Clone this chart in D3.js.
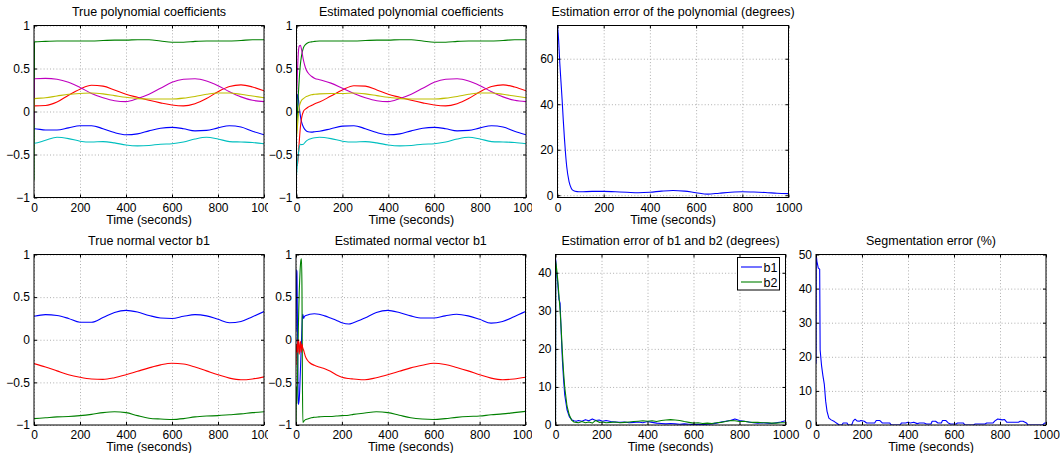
<!DOCTYPE html>
<html>
<head>
<meta charset="utf-8">
<script src="https://cdn.jsdelivr.net/npm/d3@7"></script>
<style>
  body { margin: 0; background: #fff; }
  svg { display: block; font-family: "Liberation Sans", Arial, Helvetica, sans-serif; }
</style>
</head>
<body>
<div id="chart"></div>
<script>
////////////////////////////////////////////////////
// data             //
////////////////////////////////////////////////////

const xTicks = [0, 200, 400, 600, 800, 1000];
const unitTicks = [-1, -0.5, 0, 0.5, 1];
const polyErrTicks = [0, 20, 40, 60];
const normErrTicks = [0, 10, 20, 30, 40];
const segErrTicks = [0, 10, 20, 30, 40, 50];

// true polynomial coefficients (first sample is the initial value)
const polyTime = [0, 2, 50, 100, 150, 200, 250, 300, 350, 400, 450, 500, 550, 600, 650, 700, 750, 800, 850, 900, 950, 1000];
const polyTrueB = [-0.2, -0.2, -0.215, -0.215, -0.19, -0.165, -0.165, -0.2, -0.245, -0.27, -0.26, -0.225, -0.195, -0.185, -0.2, -0.225, -0.22, -0.19, -0.165, -0.18, -0.23, -0.27];
const polyTrueG = [-0.8, 0.81, 0.815, 0.82, 0.82, 0.82, 0.82, 0.825, 0.83, 0.83, 0.835, 0.835, 0.82, 0.805, 0.805, 0.815, 0.82, 0.82, 0.82, 0.825, 0.835, 0.835];
const polyTrueR = [0.065, 0.065, 0.07, 0.11, 0.19, 0.26, 0.305, 0.295, 0.25, 0.2, 0.165, 0.13, 0.1, 0.075, 0.065, 0.09, 0.15, 0.23, 0.29, 0.31, 0.285, 0.24];
const polyTrueC = [-0.37, -0.37, -0.335, -0.3, -0.315, -0.345, -0.355, -0.35, -0.365, -0.39, -0.4, -0.395, -0.38, -0.375, -0.355, -0.32, -0.3, -0.32, -0.35, -0.355, -0.36, -0.375];
const polyTrueM = [-0.15, 0.38, 0.385, 0.375, 0.34, 0.28, 0.21, 0.16, 0.125, 0.115, 0.15, 0.2, 0.27, 0.34, 0.375, 0.38, 0.355, 0.3, 0.23, 0.17, 0.13, 0.115];
const polyTrueY = [0.0, 0.15, 0.16, 0.18, 0.2, 0.21, 0.215, 0.205, 0.185, 0.165, 0.15, 0.145, 0.145, 0.145, 0.155, 0.175, 0.2, 0.215, 0.215, 0.2, 0.18, 0.16];

// estimated polynomial coefficients
const polyEstTime = [0, 4, 8, 12, 17, 22, 30, 40, 50, 65, 80, 100, 150, 200, 250, 300, 350, 400, 450, 500, 550, 600, 650, 700, 750, 800, 850, 900, 950, 1000];
const polyEstB = [-0.1, 0.2, 0.15, 0.05, -0.05, -0.12, -0.18, -0.22, -0.235, -0.24, -0.235, -0.23, -0.2, -0.17, -0.165, -0.2, -0.245, -0.27, -0.26, -0.225, -0.195, -0.185, -0.2, -0.225, -0.22, -0.19, -0.165, -0.18, -0.23, -0.27];
const polyEstG = [-0.25, 0.0, 0.2, 0.38, 0.55, 0.65, 0.74, 0.78, 0.8, 0.81, 0.815, 0.82, 0.82, 0.82, 0.82, 0.825, 0.83, 0.83, 0.835, 0.835, 0.82, 0.805, 0.805, 0.815, 0.82, 0.82, 0.82, 0.825, 0.835, 0.835];
const polyEstR = [-0.55, -0.63, -0.5, -0.35, -0.18, -0.08, 0.0, 0.03, 0.05, 0.07, 0.09, 0.11, 0.18, 0.25, 0.3, 0.295, 0.25, 0.2, 0.165, 0.13, 0.1, 0.075, 0.065, 0.09, 0.15, 0.23, 0.29, 0.31, 0.285, 0.24];
const polyEstC = [-0.74, -0.6, -0.5, -0.42, -0.38, -0.385, -0.38, -0.35, -0.33, -0.315, -0.305, -0.3, -0.315, -0.345, -0.355, -0.35, -0.365, -0.39, -0.4, -0.395, -0.38, -0.375, -0.355, -0.32, -0.3, -0.32, -0.35, -0.355, -0.36, -0.375];
const polyEstM = [0.15, 0.45, 0.68, 0.76, 0.77, 0.72, 0.6, 0.5, 0.45, 0.41, 0.385, 0.37, 0.33, 0.27, 0.21, 0.16, 0.125, 0.115, 0.15, 0.2, 0.27, 0.34, 0.375, 0.38, 0.355, 0.3, 0.23, 0.17, 0.13, 0.115];
const polyEstY = [-0.3, -0.18, -0.05, 0.05, 0.1, 0.13, 0.15, 0.17, 0.18, 0.195, 0.2, 0.205, 0.21, 0.21, 0.215, 0.205, 0.185, 0.165, 0.15, 0.145, 0.145, 0.145, 0.155, 0.175, 0.2, 0.215, 0.215, 0.2, 0.18, 0.16];

// estimation error of the polynomial (degrees)
const polyErrTime = [0, 5, 10, 15, 20, 25, 30, 35, 40, 50, 60, 70, 85, 100, 150, 200, 250, 300, 350, 400, 450, 500, 550, 600, 650, 700, 750, 800, 850, 900, 950, 1000];
const polyErr = [74.6, 68, 58, 50, 42, 33, 25, 18, 12.5, 6, 3, 2, 1.6, 1.5, 1.7, 1.7, 1.5, 1.3, 1.1, 1.3, 1.8, 2.1, 1.8, 1.1, 0.5, 0.9, 1.3, 1.5, 1.4, 1.2, 0.9, 0.7];

// true normal vector b1
const normTime = [0, 50, 100, 150, 200, 250, 300, 350, 400, 450, 500, 550, 600, 650, 700, 750, 800, 850, 900, 950, 1000];
const normTrueB = [0.275, 0.295, 0.285, 0.25, 0.205, 0.205, 0.26, 0.32, 0.345, 0.325, 0.285, 0.255, 0.25, 0.275, 0.295, 0.28, 0.24, 0.2, 0.215, 0.27, 0.33];
const normTrueG = [-0.925, -0.915, -0.905, -0.9, -0.89, -0.875, -0.855, -0.845, -0.855, -0.89, -0.92, -0.93, -0.935, -0.925, -0.905, -0.895, -0.89, -0.88, -0.87, -0.855, -0.845];
const normTrueR = [-0.28, -0.32, -0.365, -0.41, -0.44, -0.46, -0.465, -0.445, -0.41, -0.37, -0.33, -0.295, -0.275, -0.285, -0.32, -0.365, -0.41, -0.45, -0.47, -0.46, -0.435];

// estimated normal vector b1
const normEstTime = [0, 2, 4, 6, 8, 10, 12, 14, 16, 18, 20, 22, 24, 26, 28, 30, 33, 36, 40, 50, 60, 80, 100, 125, 150, 175, 200, 230, 250, 300, 350, 400, 450, 500, 550, 600, 650, 700, 750, 800, 850, 900, 950, 1000];
const normEstB = [0.1, 0.82, 0.8, 0.3, -0.3, -0.76, -0.74, -0.7, -0.6, -0.45, -0.3, -0.15, 0.0, 0.15, 0.27, 0.3, 0.25, 0.27, 0.28, 0.29, 0.3, 0.305, 0.3, 0.28, 0.255, 0.23, 0.2, 0.185, 0.2, 0.255, 0.32, 0.345, 0.32, 0.28, 0.255, 0.255, 0.28, 0.3, 0.28, 0.24, 0.195, 0.215, 0.27, 0.33];
const normEstG = [-1.0, -0.55, -0.75, -0.5, -0.2, 0.1, 0.35, 0.55, 0.7, 0.82, 0.9, 0.94, 0.95, 0.6, -0.5, -0.97, -0.96, -0.95, -0.94, -0.93, -0.92, -0.91, -0.905, -0.9, -0.9, -0.895, -0.89, -0.885, -0.875, -0.86, -0.845, -0.855, -0.885, -0.915, -0.93, -0.935, -0.925, -0.91, -0.9, -0.895, -0.88, -0.87, -0.855, -0.84];
const normEstR = [-0.3, -0.05, -0.1, -0.15, -0.02, 0.0, -0.08, -0.17, -0.1, -0.02, -0.03, -0.15, -0.12, -0.05, -0.08, -0.1, -0.12, -0.15, -0.19, -0.24, -0.27, -0.3, -0.32, -0.34, -0.37, -0.41, -0.44, -0.455, -0.46, -0.47, -0.445, -0.41, -0.37, -0.33, -0.3, -0.275, -0.29, -0.325, -0.365, -0.41, -0.45, -0.47, -0.46, -0.44];

// estimation error of b1 and b2 (degrees)
const normErrTime = [0, 1, 5, 10, 15, 20, 25, 30, 35, 40, 50, 60, 70, 80, 90, 100, 115, 130, 145, 160, 175, 190, 205, 220, 240, 260, 280, 300, 320, 340, 360, 380, 400, 420, 440, 460, 480, 500, 520, 540, 560, 580, 600, 620, 640, 660, 680, 700, 720, 740, 760, 780, 800, 820, 840, 860, 880, 900, 920, 940, 960, 980, 1000];
const normErrB1 = [0, 43.5, 40, 37, 33, 32, 24, 17, 12, 8, 4, 2.2, 1.4, 1.1, 1.0, 1.2, 1.0, 1.4, 1.1, 1.6, 1.2, 1.3, 1.0, 1.2, 0.9, 0.8, 0.7, 0.8, 0.6, 0.7, 0.8, 0.6, 0.9, 0.7, 0.5, 0.4, 0.3, 0.4, 0.3, 0.2, 0.3, 0.2, 0.1, 0.2, 0.1, 0.2, 0.3, 0.5, 0.8, 1.0, 1.2, 1.6, 1.2, 1.0, 0.8, 0.6, 0.5, 0.6, 0.5, 0.4, 0.6, 0.8, 1.1];
const normErrB2 = [0, 42.9, 41, 38, 34, 30, 25, 19, 14, 10, 5, 2.6, 1.3, 0.8, 0.7, 0.6, 0.9, 0.6, 0.8, 0.5, 1.2, 0.7, 0.8, 0.6, 0.7, 0.8, 0.6, 0.7, 0.8, 0.9, 1.0, 1.1, 1.0, 1.1, 0.9, 1.2, 1.3, 1.4, 1.3, 1.2, 0.9, 0.7, 0.5, 0.6, 0.4, 0.5, 0.4, 0.6, 0.7, 0.9, 1.2, 1.1, 0.9, 1.0, 0.8, 0.7, 0.7, 0.6, 0.6, 0.5, 0.5, 0.6, 0.6];

// segmentation error (%)
const segTime = [0, 1, 4, 10, 16, 18, 24, 30, 36, 42, 48, 56, 66, 80, 95, 100, 112, 118, 135, 140, 155, 162, 170, 178, 188, 195, 210, 220, 230, 240, 255, 262, 278, 288, 295, 320, 328, 365, 372, 390, 400, 410, 425, 440, 450, 470, 480, 500, 505, 520, 530, 545, 550, 565, 575, 585, 610, 615, 640, 648, 685, 692, 735, 742, 770, 778, 790, 810, 820, 830, 880, 888, 900, 915, 922, 985, 995, 1000];
const segErr = [18, 50, 48, 46, 45.7, 22, 17.5, 14.5, 12, 7, 4, 2, 1.5, 1, 0.3, 0, 0, 0.6, 0.6, 0, 0, 1.2, 1.7, 1.2, 1.1, 1.3, 1.1, 0.6, 0.6, 0.6, 0.6, 1.3, 1.3, 0.6, 0.6, 0.6, 0, 0, 0.6, 0.6, 0.8, 0.6, 0.8, 0.4, 0.6, 0.6, 0.3, 0.3, 1.1, 1.1, 0.6, 0.6, 1.3, 1.3, 0.6, 0.3, 0.3, 0.6, 0.6, 0, 0, 0.3, 0.3, 0.6, 0.6, 1.2, 1.75, 1.5, 1.6, 0.8, 0.8, 1.1, 1.1, 0.6, 0, 0, 0.6, 0.6];

const matlabColors = { b: "#0000ff", g: "#008000", r: "#ff0000", c: "#00bfbf", m: "#bf00bf", y: "#bfbf00" };

////////////////////////////////////////////////////
// layout                                         //
////////////////////////////////////////////////////

const config = {
  width: 1060,
  height: 453,
  tickFont: 12,
  textFont: 12.5
};

const zip = (ts, vs) => ts.map((t, i) => [t, vs[i]]);

const panels = [
  { title: "True polynomial coefficients", box: [34, 264, 25.5, 197.5], clip: [0, 0, 268, 228],
    yDomain: [-1, 1], yTicks: unitTicks, curve: d3.curveMonotoneX,
    series: [["b", zip(polyTime, polyTrueB)], ["g", zip(polyTime, polyTrueG)], ["r", zip(polyTime, polyTrueR)],
             ["c", zip(polyTime, polyTrueC)], ["m", zip(polyTime, polyTrueM)], ["y", zip(polyTime, polyTrueY)]] },
  { title: "Estimated polynomial coefficients", box: [296.5, 526, 25.5, 197.5], clip: [268, 0, 264, 228],
    yDomain: [-1, 1], yTicks: unitTicks, curve: d3.curveMonotoneX,
    series: [["b", zip(polyEstTime, polyEstB)], ["g", zip(polyEstTime, polyEstG)], ["r", zip(polyEstTime, polyEstR)],
             ["c", zip(polyEstTime, polyEstC)], ["m", zip(polyEstTime, polyEstM)], ["y", zip(polyEstTime, polyEstY)]] },
  { title: "Estimation error of the polynomial (degrees)", box: [557.5, 788.5, 25.5, 197.5], clip: [532, 0, 290, 228],
    yDomain: [-1, 74.6], yTicks: polyErrTicks, curve: d3.curveMonotoneX,
    series: [["b", zip(polyErrTime, polyErr)]] },
  { title: "True normal vector b1", box: [34, 264, 254.5, 425], clip: [0, 228, 268, 225],
    yDomain: [-1, 1], yTicks: unitTicks, curve: d3.curveMonotoneX,
    series: [["b", zip(normTime, normTrueB)], ["g", zip(normTime, normTrueG)], ["r", zip(normTime, normTrueR)]] },
  { title: "Estimated normal vector b1", box: [296, 525.5, 254.5, 425], clip: [268, 228, 264, 225],
    yDomain: [-1, 1], yTicks: unitTicks, curve: d3.curveMonotoneX,
    series: [["b", zip(normEstTime, normEstB)], ["g", zip(normEstTime, normEstG)], ["r", zip(normEstTime, normEstR)]] },
  { title: "Estimation error of b1 and b2 (degrees)", box: [555.5, 785.5, 254.5, 425], clip: [532, 228, 270, 225],
    yDomain: [0, 44.8], yTicks: normErrTicks, curve: d3.curveLinear,
    series: [["b", zip(normErrTime, normErrB1)], ["g", zip(normErrTime, normErrB2)]],
    legend: ["b1", "b2"] },
  { title: "Segmentation error (%)", box: [816, 1046, 254.5, 425], clip: [788, 228, 272, 225],
    yDomain: [0, 50], yTicks: segErrTicks, curve: d3.curveLinear,
    series: [["b", zip(segTime, segErr)]] }
];

////////////////////////////////////////////////////
// drawing                                        //
////////////////////////////////////////////////////

const svg = d3.select("#chart").append("svg")
  .attr("width", config.width)
  .attr("height", config.height);

svg.append("rect").attr("width", config.width).attr("height", config.height).attr("fill", "#fff");

panels.forEach((p, i) => drawPanel(svg, p, i));

function drawPanel(svg, p, i) {
  const [left, right, top, bottom] = p.box;
  const x = d3.scaleLinear().domain([0, 1000]).range([left, right]);
  const y = d3.scaleLinear().domain(p.yDomain).range([bottom, top]);

  // each subplot was a separate picture, so it is cut at its own border
  svg.append("clipPath").attr("id", "img" + i).append("rect")
    .attr("x", p.clip[0]).attr("y", p.clip[1]).attr("width", p.clip[2]).attr("height", p.clip[3]);
  svg.append("clipPath").attr("id", "plot" + i).append("rect")
    .attr("x", left).attr("y", top).attr("width", right - left).attr("height", bottom - top);

  const g = svg.append("g").attr("clip-path", "url(#img" + i + ")");

  // dotted grid
  g.append("g")
    .attr("class", "grid")
    .attr("transform", "translate(0," + bottom + ")")
    .call(d3.axisBottom(x).tickValues(xTicks).tickSize(-(bottom - top)).tickFormat(""))
    .call(s => s.select(".domain").remove());
  g.append("g")
    .attr("class", "grid")
    .attr("transform", "translate(" + left + ",0)")
    .call(d3.axisLeft(y).tickValues(p.yTicks).tickSize(-(right - left)).tickFormat(""))
    .call(s => s.select(".domain").remove());
  g.selectAll(".grid line")
    .attr("stroke", "#9a9a9a")
    .attr("stroke-width", 0.8)
    .attr("stroke-dasharray", "1,2.2");

  // data lines
  const line = d3.line()
    .x(d => x(d[0]))
    .y(d => y(d[1]))
    .curve(p.curve);

  g.append("g")
    .attr("clip-path", "url(#plot" + i + ")")
    .selectAll("path")
    .data(p.series)
    .join("path")
    .attr("d", d => line(d[1]))
    .attr("fill", "none")
    .attr("stroke", d => matlabColors[d[0]])
    .attr("stroke-width", 1.1)
    .attr("stroke-linejoin", "round");

  // ticks pointing inward on all four sides
  const tickLen = 3;
  const xb = g.append("g")
    .attr("transform", "translate(0," + bottom + ")")
    .call(d3.axisBottom(x).tickValues(xTicks).tickSize(-tickLen).tickPadding(5.5).tickFormat(d3.format("d")));
  g.append("g")
    .attr("transform", "translate(0," + top + ")")
    .call(d3.axisTop(x).tickValues(xTicks).tickSize(-tickLen).tickFormat(""));
  const yl = g.append("g")
    .attr("transform", "translate(" + left + ",0)")
    .call(d3.axisLeft(y).tickValues(p.yTicks).tickSize(-tickLen).tickPadding(4).tickFormat(d3.format("~g")));
  g.append("g")
    .attr("transform", "translate(" + right + ",0)")
    .call(d3.axisRight(y).tickValues(p.yTicks).tickSize(-tickLen).tickFormat(""));

  g.selectAll(".domain").remove();
  [xb, yl].forEach(a => a.selectAll("text")
    .attr("fill", "#000")
    .style("font-size", config.tickFont + "px"));

  // frame
  g.append("rect")
    .attr("x", left).attr("y", top)
    .attr("width", right - left).attr("height", bottom - top)
    .attr("fill", "none")
    .attr("stroke", "#000")
    .attr("stroke-width", 1);

  // title and x label
  g.append("text")
    .attr("x", (left + right) / 2)
    .attr("y", top - 9.5)
    .attr("text-anchor", "middle")
    .style("font-size", config.textFont + "px")
    .text(p.title);
  g.append("text")
    .attr("x", (left + right) / 2)
    .attr("y", bottom + 26)
    .attr("text-anchor", "middle")
    .style("font-size", config.textFont + "px")
    .text("Time (seconds)");

  if (p.legend) {
    const lg = g.append("g").attr("transform", "translate(737.5,257.5)");
    lg.append("rect")
      .attr("width", 42).attr("height", 32.5)
      .attr("fill", "#fff").attr("stroke", "#000").attr("stroke-width", 1);
    p.legend.forEach((name, k) => {
      const yy = 9.5 + k * 15;
      lg.append("line")
        .attr("x1", 3.5).attr("x2", 24.5).attr("y1", yy).attr("y2", yy)
        .attr("stroke", matlabColors[p.series[k][0]]).attr("stroke-width", 1.1);
      lg.append("text")
        .attr("x", 26).attr("y", yy).attr("dy", "0.36em")
        .style("font-size", config.textFont + "px")
        .text(name);
    });
  }
}
</script>
</body>
</html>
